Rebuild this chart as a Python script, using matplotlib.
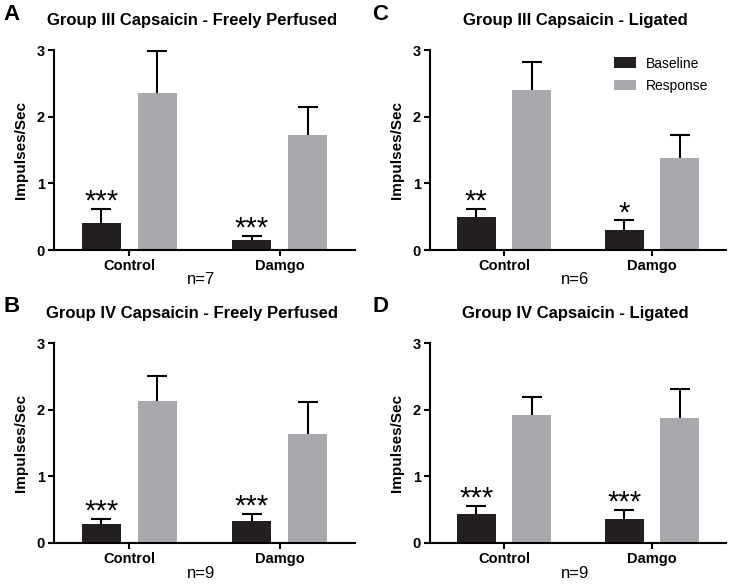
"""
Capsaicin responses, baseline vs response, four panels (A-D).
"""
import numpy as np
from matplotlib import pyplot as plt

plt.rcParams['font.family'] = ['Liberation Sans', 'DejaVu Sans']

groups = ['Control', 'Damgo']

# panel A: Group III Capsaicin - Freely Perfused
base_a = [0.40, 0.15]
base_a_err = [0.22, 0.06]
resp_a = [2.35, 1.72]
resp_a_err = [0.64, 0.43]
stars_a = ['***', '***']

# panel B: Group IV Capsaicin - Freely Perfused
base_b = [0.29, 0.325]
base_b_err = [0.075, 0.11]
resp_b = [2.13, 1.64]
resp_b_err = [0.37, 0.47]
stars_b = ['***', '***']

# panel C: Group III Capsaicin - Ligated
base_c = [0.495, 0.305]
base_c_err = [0.12, 0.14]
resp_c = [2.40, 1.385]
resp_c_err = [0.42, 0.34]
stars_c = ['**', '*']

# panel D: Group IV Capsaicin - Ligated
base_d = [0.43, 0.36]
base_d_err = [0.125, 0.14]
resp_d = [1.915, 1.875]
resp_d_err = [0.275, 0.43]
stars_d = ['***', '***']

panels = [
    ('A', 'Group III Capsaicin - Freely Perfused', 'n=7', base_a, base_a_err, resp_a, resp_a_err, stars_a),
    ('C', 'Group III Capsaicin - Ligated', 'n=6', base_c, base_c_err, resp_c, resp_c_err, stars_c),
    ('B', 'Group IV Capsaicin - Freely Perfused', 'n=9', base_b, base_b_err, resp_b, resp_b_err, stars_b),
    ('D', 'Group IV Capsaicin - Ligated', 'n=9', base_d, base_d_err, resp_d, resp_d_err, stars_d),
]

W, H = 733, 586
# axes boxes in pixels: left, top, width, height
boxes = [(54, 50, 301, 200), (430, 50, 296, 200), (54, 343, 301, 200), (430, 343, 296, 200)]
title_x = [0.458, 0.49, 0.46, 0.49]

dark = '#231f20'
grey = '#a7a9ac'
bw = 0.26
off = 0.187


def upper_errbar(ax, xs, vals, errs):
    # only the upper half of the error bar, as in the original figure
    eb = ax.errorbar(xs, vals, yerr=[np.zeros(len(vals)), errs], fmt='none',
                     ecolor='black', elinewidth=1.5, capsize=7, capthick=1.5, zorder=1)
    eb[1][0].set_visible(False)


fig = plt.figure(figsize=(W / 100, H / 100), dpi=100)

for i, (letter, title, n_txt, base, base_err, resp, resp_err, stars) in enumerate(panels):
    l, t, w, h = boxes[i]
    ax = fig.add_axes([l / W, 1 - (t + h) / H, w / W, h / H])
    x = np.arange(len(groups))

    ax.bar(x - off, base, bw, color=dark, label='Baseline', zorder=2)
    ax.bar(x + off, resp, bw, color=grey, label='Response', zorder=2)
    upper_errbar(ax, x - off, base, base_err)
    upper_errbar(ax, x + off, resp, resp_err)

    for xi, v, e, s in zip(x - off, base, base_err, stars):
        ax.annotate(s, (xi, v + e), xytext=(0, -5), textcoords='offset points',
                    ha='center', va='bottom', fontsize=21)

    ax.set_xlim(-0.5, 1.5)
    ax.set_ylim(0, 3)
    ax.set_yticks([0, 1, 2, 3])
    ax.set_xticks(x)
    ax.set_xticklabels(groups, fontsize=10.5, fontweight='bold')
    for lab in ax.get_yticklabels():
        lab.set_fontsize(10.5)
        lab.set_fontweight('bold')
    ax.spines['top'].set_visible(False)
    ax.spines['right'].set_visible(False)
    ax.spines['left'].set_linewidth(1.5)
    ax.spines['bottom'].set_linewidth(1.5)
    ax.tick_params(direction='out', length=4.5, width=1.5, pad=2)
    ax.set_ylabel('Impulses/Sec', fontsize=11, fontweight='bold', labelpad=6)

    ax.set_title(title, x=title_x[i], y=1.0, pad=18, fontsize=12, fontweight='bold')
    ax.text(0.49, -0.15, n_txt, transform=ax.transAxes, ha='center', va='center', fontsize=12)

    lx = 12 if letter in 'AB' else 380
    fig.text(lx / W, 1 - (t - 36) / H, letter, ha='center', va='center',
             fontsize=16, fontweight='bold')

    if letter == 'C':
        ax.legend(loc='upper left', bbox_to_anchor=(0.58, 1.03), frameon=False, fontsize=10,
                  handlelength=1.6, handleheight=0.8, handletextpad=0.7, labelspacing=0.6)

fig.savefig('out.png', dpi=100)
